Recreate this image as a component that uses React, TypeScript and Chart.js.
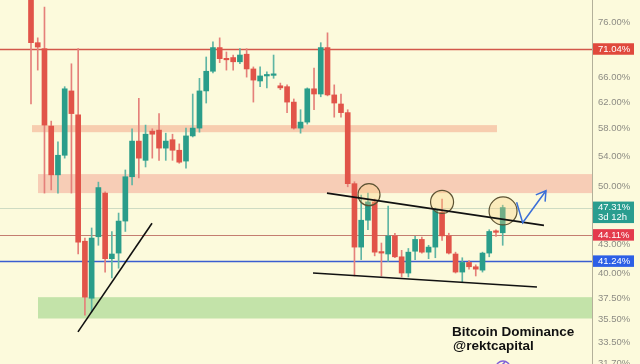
import React, { useEffect, useRef } from "react";
import { Chart, registerables } from "chart.js";

Chart.register(...registerables);

// Candles (Bitcoin Dominance, %), oldest -> newest
const opens = [82.0, 72.2, 71.1, 58.3, 51.45, 54.1, 63.8, 60.0, 43.4, 37.5, 43.9, 49.1, 41.5, 42.1, 45.7, 51.2, 56.1, 53.4, 57.55, 57.7, 55.1, 56.3, 54.8, 53.3, 56.85, 58.0, 63.8, 67.1, 71.3, 69.3, 69.5, 68.75, 70.1, 67.5, 65.45, 66.3, 66.4, 64.65, 64.5, 62.0, 58.0, 58.9, 64.15, 63.3, 71.3, 63.15, 61.7, 60.35, 50.3, 42.75, 45.8, 48.0, 42.2, 42.0, 44.0, 41.7, 40.0, 42.3, 43.6, 42.2, 42.75, 46.75, 44.0, 42.0, 40.1, 41.1, 40.65, 40.3, 42.1, 44.5, 44.35];
const highs = [83.0, 73.1, 79.1, 59.05, 56.0, 64.5, 68.4, 71.1, 43.75, 44.9, 50.5, 49.25, 44.5, 46.65, 52.1, 57.9, 62.6, 58.45, 57.9, 60.2, 57.25, 57.1, 55.7, 58.0, 63.3, 65.9, 69.6, 72.35, 73.1, 70.5, 69.95, 71.1, 71.1, 67.85, 67.85, 67.0, 69.95, 65.1, 64.8, 62.5, 60.8, 64.3, 67.65, 72.2, 74.05, 64.8, 63.3, 60.8, 50.55, 48.85, 49.1, 48.35, 43.2, 47.5, 44.3, 42.4, 42.6, 43.95, 43.85, 42.95, 47.25, 48.35, 44.3, 42.2, 41.6, 41.3, 40.85, 42.2, 44.7, 44.7, 47.6];
const lows = [61.7, 67.3, 49.1, 49.5, 49.1, 53.7, 49.1, 42.0, 35.9, 36.2, 42.95, 40.1, 39.5, 40.5, 44.5, 50.15, 51.05, 52.5, 53.7, 53.4, 53.4, 53.4, 53.0, 52.35, 56.7, 57.4, 61.85, 66.8, 68.6, 67.3, 67.3, 68.4, 66.1, 62.0, 64.5, 64.3, 65.9, 64.0, 60.35, 57.85, 57.25, 58.6, 60.8, 62.85, 63.0, 59.65, 59.65, 49.9, 39.7, 41.4, 44.7, 41.8, 39.7, 41.2, 41.6, 39.6, 39.6, 41.4, 42.1, 41.5, 41.6, 43.5, 42.0, 40.0, 39.1, 40.4, 39.7, 40.1, 41.7, 43.95, 42.95];
const closes = [72.2, 71.4, 58.45, 51.45, 54.1, 64.15, 60.2, 43.3, 37.6, 43.75, 49.8, 41.5, 42.0, 45.7, 51.2, 56.1, 53.7, 57.1, 57.1, 55.1, 56.1, 54.8, 53.15, 56.85, 58.0, 63.8, 67.1, 71.3, 69.3, 69.1, 68.75, 69.95, 67.5, 65.6, 66.3, 66.35, 66.5, 64.3, 62.0, 58.0, 58.9, 64.15, 63.3, 71.3, 63.15, 61.85, 60.35, 50.3, 42.75, 45.8, 48.0, 42.2, 42.1, 44.0, 41.7, 40.0, 42.2, 43.6, 42.2, 42.75, 47.0, 44.0, 42.1, 40.1, 41.1, 40.65, 40.4, 42.1, 44.5, 44.4, 47.31];

// Right axis ticks
const tickValues = [76, 66, 62, 58, 54, 50, 43, 40, 37.5, 35.5, 33.5, 31.7];

// Horizontal levels
const levelTop = 71.04;
const levelPrice = 47.31;
const levelMid = 44.11;
const levelBlue = 41.24;
const priceCountdown = "3d 12h";

// Zones: [high, low, startIndex, endIndex|null]
const zoneUpper = [58.45, 57.4, 0.15, 69.15];
const zoneResist = [51.55, 49.1, 1.04, null];
const zoneSupport = [37.6, 35.6, 1.04, null];

// Trendlines [[index, value], [index, value]]
const trendRise = [[6.97, 34.4], [17.96, 45.45]];
const trendUpper = [[43.92, 49.1], [76.12, 45.2]];
const trendLower = [[41.85, 40.0], [75.08, 38.6]];
// Highlight circles [index, value]
const circleCenters = [[50.16, 48.9], [61.0, 48.0], [70.05, 46.9]];
// Projection arrow
const arrowPath = [[72.07, 47.95], [72.96, 45.5], [76.42, 49.4]];

const title1 = "Bitcoin Dominance";
const title2 = "@rektcapital";

const UP = "#2a9d8a";
const DOWN = "#e15449";
const UP_WICK = "#5fb5a4";
const DOWN_WICK = "#e5807a";
const BG = "#fcfadc";

export default function App() {
  const ref = useRef<HTMLCanvasElement | null>(null);

  useEffect(() => {
    document.body.style.margin = "0";
    document.body.style.background = BG;
    const canvas = ref.current;
    if (!canvas) return;

    const idx = opens.map((_, i) => i);
    const isUp = idx.map((i) => closes[i] >= opens[i]);
    const bodies = idx.map((i) => ({ x: i, y: [opens[i], closes[i]] }));
    const wicks = idx.map((i) => ({ x: i, y: [lows[i], highs[i]] }));

    const font = "Liberation Sans, Arial, sans-serif";

    const overlay = {
      id: "overlay",
      beforeDraw(chart: any) {
        const { ctx, width, height } = chart;
        ctx.save();
        ctx.fillStyle = BG;
        ctx.fillRect(0, 0, width, height);
        ctx.restore();
      },
      beforeDatasetsDraw(chart: any) {
        const { ctx, chartArea, scales } = chart;
        const x = scales.x, y = scales.y;
        ctx.save();
        const zone = (z: any[], color: string) => {
          const px0 = x.getPixelForValue(z[2]);
          const px1 = z[3] == null ? chartArea.right : x.getPixelForValue(z[3]);
          const py0 = y.getPixelForValue(z[0]);
          const py1 = y.getPixelForValue(z[1]);
          ctx.fillStyle = color;
          ctx.fillRect(px0, py0, px1 - px0, py1 - py0);
        };
        zone(zoneUpper, "rgba(246,190,160,0.75)");
        zone(zoneResist, "rgba(245,185,165,0.7)");
        zone(zoneSupport, "rgba(185,222,160,0.85)");

        const hline = (v: number, color: string, w: number) => {
          const py = Math.round(y.getPixelForValue(v)) + (w % 2 ? 0.5 : 0);
          ctx.strokeStyle = color;
          ctx.lineWidth = w;
          ctx.beginPath();
          ctx.moveTo(chartArea.left, py);
          ctx.lineTo(chartArea.right, py);
          ctx.stroke();
        };
        hline(levelPrice, "rgba(120,160,150,0.35)", 1);
        hline(levelMid, "#c47d70", 1);
        hline(levelBlue, "#3a5dd0", 1.5);
        hline(levelTop, "#d2574a", 1.5);
        ctx.restore();
      },
      afterDatasetsDraw(chart: any) {
        const { ctx, scales } = chart;
        const x = scales.x, y = scales.y;
        const P = (p: number[]) => [x.getPixelForValue(p[0]), y.getPixelForValue(p[1])];
        ctx.save();
        // circles
        const radii = [11, 11.5, 14];
        circleCenters.forEach((c, i) => {
          const [cx, cy] = P(c);
          ctx.beginPath();
          ctx.arc(cx, cy, radii[i], 0, Math.PI * 2);
          ctx.fillStyle = "rgba(250,205,130,0.35)";
          ctx.fill();
          ctx.strokeStyle = "#5c5232";
          ctx.lineWidth = 1.2;
          ctx.stroke();
        });
        // trendlines
        ctx.strokeStyle = "#111";
        ctx.lineWidth = 1.6;
        [trendRise, trendUpper, trendLower].forEach((t) => {
          const a = P(t[0]), b = P(t[1]);
          ctx.beginPath();
          ctx.moveTo(a[0], a[1]);
          ctx.lineTo(b[0], b[1]);
          ctx.stroke();
        });
        // arrow
        ctx.strokeStyle = "#3b6fd8";
        ctx.lineWidth = 1.5;
        ctx.beginPath();
        arrowPath.forEach((p, i) => {
          const q = P(p);
          if (i === 0) ctx.moveTo(q[0], q[1]);
          else ctx.lineTo(q[0], q[1]);
        });
        ctx.stroke();
        const tip = P(arrowPath[2]);
        const prev = P(arrowPath[1]);
        const ang = Math.atan2(tip[1] - prev[1], tip[0] - prev[0]);
        const L = 11;
        ctx.beginPath();
        ctx.moveTo(tip[0] - L * Math.cos(ang - 0.55), tip[1] - L * Math.sin(ang - 0.55));
        ctx.lineTo(tip[0], tip[1]);
        ctx.lineTo(tip[0] - L * Math.cos(ang + 0.55), tip[1] - L * Math.sin(ang + 0.55));
        ctx.stroke();

        // watermark text
        ctx.fillStyle = "#111";
        ctx.font = "bold 13.5px " + font;
        ctx.textAlign = "left";
        ctx.textBaseline = "alphabetic";
        ctx.fillText(title1, 452, 336);
        ctx.fillText(title2, 453, 350);
        // icon
        ctx.beginPath();
        ctx.arc(503, 368, 7, 0, Math.PI * 2);
        ctx.strokeStyle = "#8060d8";
        ctx.lineWidth = 1.5;
        ctx.stroke();
        ctx.beginPath();
        ctx.moveTo(505, 362);
        ctx.lineTo(501, 366);
        ctx.stroke();
        ctx.restore();
      },
      afterDraw(chart: any) {
        const { ctx, chartArea, scales } = chart;
        const y = scales.y;
        const bx = chartArea.right + 1;
        const bw = 41;
        ctx.save();
        ctx.font = "9.5px " + font;
        ctx.textAlign = "left";
        ctx.textBaseline = "middle";
        const badge = (v: number, color: string, lines: string[]) => {
          const cy = y.getPixelForValue(v);
          const h = lines.length === 1 ? 11.5 : 21.5;
          const top = lines.length === 1 ? cy - h / 2 : cy - 6;
          ctx.fillStyle = color;
          ctx.fillRect(bx, top, bw, h);
          ctx.fillStyle = "#fff";
          lines.forEach((t, i) => ctx.fillText(t, bx + 5, top + 5.8 + i * 10));
        };
        badge(levelTop, "#e0493c", [levelTop.toFixed(2) + "%"]);
        badge(levelPrice, "#2a9d8f", [levelPrice.toFixed(2) + "%", priceCountdown]);
        badge(levelMid, "#e43a4c", [levelMid.toFixed(2) + "%"]);
        badge(levelBlue, "#2d5fe6", [levelBlue.toFixed(2) + "%"]);
        ctx.restore();
      },
    };

    const chart = new Chart(canvas, {
      type: "bar",
      data: {
        datasets: [
          {
            data: bodies as any,
            backgroundColor: isUp.map((u) => (u ? UP : DOWN)),
            barThickness: 5,
            grouped: false,
            minBarLength: 1.5,
            borderWidth: 0,
          } as any,
          {
            data: wicks as any,
            backgroundColor: isUp.map((u) => (u ? UP_WICK : DOWN_WICK)),
            barThickness: 1,
            grouped: false,
            borderWidth: 0,
          } as any,
        ],
      },
      options: {
        animation: false,
        responsive: false,
        devicePixelRatio: 1,
        layout: { padding: 0, autoPadding: false } as any,
        plugins: { legend: { display: false }, tooltip: { enabled: false } },
        scales: {
          x: {
            type: "linear",
            display: false,
            min: -4.6,
            max: 83.25,
            offset: false,
          },
          y: {
            type: "logarithmic",
            position: "right",
            min: 31.68,
            max: 80.55,
            grid: { display: false, drawTicks: false },
            border: { display: true, color: "#b3b09a", width: 1 },
            ticks: {
              autoSkip: false,
              padding: 6,
              color: "#8d8c84",
              font: { family: font, size: 9.5 },
              callback: (v: any) => Number(v).toFixed(2) + "%",
            },
            afterBuildTicks: (s: any) => {
              s.ticks = tickValues.map((v) => ({ value: v }));
            },
            afterFit: (s: any) => {
              s.width = 48;
              s.paddingTop = 0;
              s.paddingBottom = 0;
              s.paddingLeft = 0;
              s.paddingRight = 0;
            },
          } as any,
        },
      },
      plugins: [overlay],
    });

    return () => chart.destroy();
  }, []);

  return (
    <div style={{ width: 640, height: 364, background: BG }}>
      <canvas ref={ref} width={640} height={364} style={{ display: "block" }} />
    </div>
  );
}
